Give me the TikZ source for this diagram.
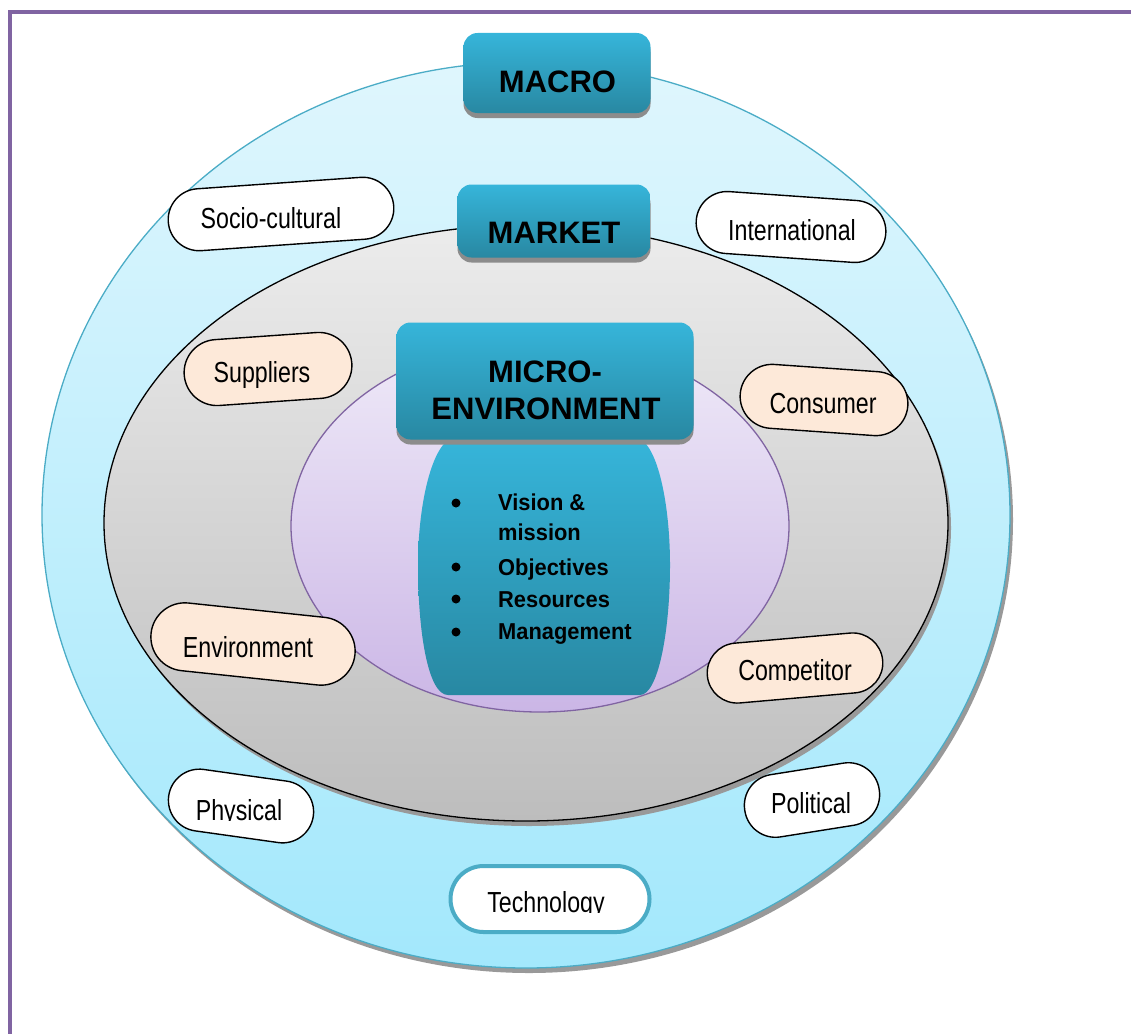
\documentclass[tikz,border=0pt]{standalone}
\usepackage{fontspec}
\setmainfont{Liberation Sans}
\newfontfamily\narrowfont[FakeStretch=0.8]{Liberation Sans}
\newfontfamily\itemfont[FakeStretch=0.95]{Liberation Sans}
\usetikzlibrary{shapes.geometric,shadows,calc}
\definecolor{frameP}{HTML}{8064A2}
\definecolor{tealL}{HTML}{4BACC6}
\definecolor{macroT}{HTML}{DFF6FD}
\definecolor{macroB}{HTML}{A3E8FC}
\definecolor{mktT}{HTML}{ECECEC}
\definecolor{mktB}{HTML}{BDBDBD}
\definecolor{micT}{HTML}{EFEAF8}
\definecolor{micB}{HTML}{CBB6E6}
\definecolor{boxT}{HTML}{36B5DA}
\definecolor{boxB}{HTML}{2888A2}
\definecolor{peach}{HTML}{FDE9D9}
\tikzset{
  ring/.style={ellipse, inner sep=0pt},
  titlebox/.style={rectangle, rounded corners=14pt, top color=boxT, bottom color=boxB,
    draw=none, inner sep=0pt,
    drop shadow={shadow xshift=0pt, shadow yshift=-5pt, fill=black!45, opacity=1}},
  titletext/.style={anchor=base, inner sep=0pt, font=\fontsize{31}{37}\selectfont\bfseries},
  pill/.style={rectangle, draw=black, line width=1.4pt, inner sep=0pt},
  whitepill/.style={pill, fill=white},
  peachpill/.style={pill, fill=peach},
  pilltext/.style={anchor=base, inner sep=0pt, font=\fontsize{29}{34}\narrowfont},
  item/.style={anchor=base west, inner sep=0pt, font=\fontsize{23}{27}\itemfont\bfseries},
  dot/.style={circle, fill=black, inner sep=0pt, minimum size=9pt}
}
% label whose lower part is cut off at its baseline
\newcommand{\cutlabel}[4]{%
  \begin{scope}
    \clip (#2-130,#3-45) rectangle (#2+130,#3+0.6);
    \node[pilltext] (#1) at (#2,#3) {#4};
  \end{scope}}
\begin{document}
\begin{tikzpicture}[x=1pt,y=-1pt]
\useasboundingbox (0,0) rectangle (1131,1033);
\clip (0,0) rectangle (1131,1033);
% frame
\draw[frameP, line width=4.5pt] (10,1050) -- (10,12) -- (1150,12);
% macro ring
\node[ring, minimum width=968pt, minimum height=906pt, draw=tealL, line width=1.3pt,
  top color=macroT, bottom color=macroB,
  drop shadow={shadow xshift=3pt, shadow yshift=-5pt, fill=black!40, opacity=1}] (macro) at (526,515) {};
% market ring
\node[ring, minimum width=844pt, minimum height=596pt, draw=black, line width=1.3pt,
  top color=mktT, bottom color=mktB,
  drop shadow={shadow xshift=3pt, shadow yshift=-5pt, fill=black!40, opacity=1}] (market) at (526,523) {};
% micro ring
\node[ring, minimum width=498pt, minimum height=372pt, draw=frameP, line width=1.3pt,
  top color=micT, bottom color=micB] (micro) at (540,526) {};
% center barrel
\path[top color=boxT, bottom color=boxB, draw=none]
  (455,438) -- (635,438) .. controls (656,438) and (670,500) .. (670,565)
  .. controls (670,632) and (658,695) .. (640,695) -- (448,695)
  .. controls (428,695) and (418,632) .. (418,565)
  .. controls (418,500) and (434,438) .. (455,438) -- cycle;
\coordinate (core) at (544,565);
% title boxes
\node[titlebox, minimum width=187pt, minimum height=80pt] (macroT) at (557,73) {};
\node[titletext] (macroL) at (557.5,92) {MACRO};
\node[titlebox, minimum width=193pt, minimum height=73pt] (marketT) at (554,221) {};
\node[titletext] (marketL) at (554,243) {MARKET};
\node[titlebox, minimum width=297pt, minimum height=117pt] (microT) at (545,381) {};
\node[titletext] (microL1) at (545,382) {MICRO-};
\node[titletext] (microL2) at (546,419) {ENVIRONMENT};
% bullets
\node[dot] (b1) at (456,503) {};
\node[dot] (b2) at (456,567) {};
\node[dot] (b3) at (456,599) {};
\node[dot] (b4) at (456,632) {};
\node[item] (t1) at (498,510) {Vision \&};
\node[item] (t1b) at (498,540) {mission};
\node[item] (t2) at (498,575) {Objectives};
\node[item] (t3) at (498,607) {Resources};
\node[item] (t4) at (498,639) {Management};
% pills
\node[whitepill, minimum width=226pt, minimum height=62pt, rounded corners=31pt, rotate=4] (socio) at (281,214) {};
\cutlabel{socioL}{271}{228}{Socio-cultural}
\node[whitepill, minimum width=190pt, minimum height=62pt, rounded corners=31pt, rotate=-4] (intl) at (791,227) {};
\cutlabel{intlL}{792}{240}{International}
\node[peachpill, minimum width=168pt, minimum height=66pt, rounded corners=33pt, rotate=4] (supp) at (268,369) {};
\node[pilltext] (suppL) at (262,382) {Suppliers};
\node[peachpill, minimum width=168pt, minimum height=64pt, rounded corners=32pt, rotate=-4] (cons) at (824,400) {};
\cutlabel{consL}{823}{413}{Consumer}
\node[peachpill, minimum width=205pt, minimum height=68pt, rounded corners=34pt, rotate=-6] (env) at (253,644) {};
\node[pilltext] (envL) at (248,657) {Environment};
\node[peachpill, minimum width=176pt, minimum height=60pt, rounded corners=30pt, rotate=5] (comp) at (795,668) {};
\cutlabel{compL}{795}{680}{Competitor}
\node[whitepill, minimum width=146pt, minimum height=62pt, rounded corners=31pt, rotate=-8] (phys) at (241,806) {};
\cutlabel{physL}{239}{820}{Physical}
\node[whitepill, minimum width=136pt, minimum height=63pt, rounded corners=31pt, rotate=9] (pol) at (812,800) {};
\node[pilltext] (polL) at (811,813) {Political};
\node[pill, draw=tealL, fill=white, line width=4pt, minimum width=199pt, minimum height=66pt, rounded corners=33pt] (tech) at (550,899) {};
\cutlabel{techL}{546}{912}{Technology}
\end{tikzpicture}
\end{document}
